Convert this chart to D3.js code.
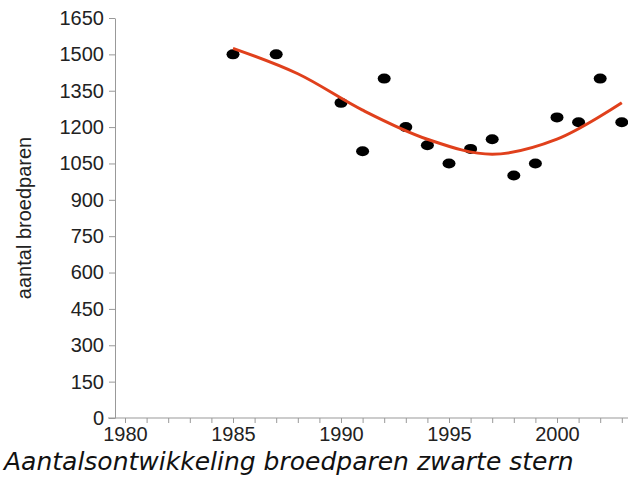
<!DOCTYPE html>
<html><head><meta charset="utf-8">
<script src="https://cdn.jsdelivr.net/npm/d3@7"></script>
<style>body{margin:0;background:#fff;font-family:"Liberation Sans",Arial,sans-serif}</style>
</head><body><svg id="chart" width="628" height="486"></svg>
<script>
const years = [1985, 1987, 1990, 1991, 1992, 1993, 1994, 1995, 1996, 1997, 1998, 1999, 2000, 2001, 2002, 2003];
const counts = [1500, 1500, 1300, 1100, 1400, 1200, 1125, 1050, 1110, 1150, 1000, 1050, 1240, 1220, 1400, 1220];
const trendYears = [1985, 1988, 1991, 1994, 1997, 2000, 2003];
const trendValues = [1525, 1420, 1270, 1150, 1088, 1150, 1300];
const yTicks = [0, 150, 300, 450, 600, 750, 900, 1050, 1200, 1350, 1500, 1650];
const xLabels = [1980, 1985, 1990, 1995, 2000];

const svg = d3.select('#chart');
const x = d3.scaleLinear().domain([1980, 2000]).range([125, 557]);
const y = d3.scaleLinear().domain([0, 1650]).range([418, 18]);
const axisCol = '#999';
const font = '"Liberation Sans",Arial,sans-serif';

// y axis
const gy = svg.append('g').attr('transform', 'translate(115,0)')
  .call(d3.axisLeft(y).tickValues(yTicks).tickSize(6).tickSizeOuter(0).tickFormat(d3.format('d')));
gy.select('.domain').attr('stroke', axisCol);
gy.selectAll('line').attr('stroke', axisCol);
gy.selectAll('text').attr('font-size', 20).attr('fill', '#222').attr('dx', -2)
  .attr('font-family', font);

// x axis
const gx = svg.append('g').attr('transform', 'translate(0,418)')
  .call(d3.axisBottom(x).tickValues(d3.range(1980, 2004)).tickSize(5).tickFormat(d => xLabels.includes(d) ? d : ''));
gx.select('.domain').attr('d', 'M108,0H628').attr('stroke', axisCol);
gx.selectAll('line').attr('stroke', axisCol);
gx.selectAll('text').attr('font-size', 20).attr('fill', '#222').attr('dy', '0.75em')
  .attr('font-family', font);

// points
svg.selectAll('ellipse.pt').data(years).enter().append('ellipse')
  .attr('cx', d => x(d)).attr('cy', (d, i) => y(counts[i]))
  .attr('rx', 6.5).attr('ry', 5).attr('fill', '#000');

// trend
svg.append('path')
  .datum(trendYears.map((d, i) => [d, trendValues[i]]))
  .attr('d', d3.line().x(d => x(d[0])).y(d => y(d[1])).curve(d3.curveCatmullRom))
  .attr('fill', 'none').attr('stroke', '#e0401c').attr('stroke-width', 3);

svg.append('text').attr('transform', 'translate(31,218) rotate(-90)')
  .attr('text-anchor', 'middle').attr('font-size', 20).attr('fill', '#222')
  .attr('font-family', font).text('aantal broedparen');

svg.append('text').attr('x', 4).attr('y', 470).attr('font-size', 25)
  .attr('font-style', 'italic').attr('fill', '#111').attr('font-family', '"DejaVu Sans",sans-serif')
  .text('Aantalsontwikkeling broedparen zwarte stern');
</script></body></html>
